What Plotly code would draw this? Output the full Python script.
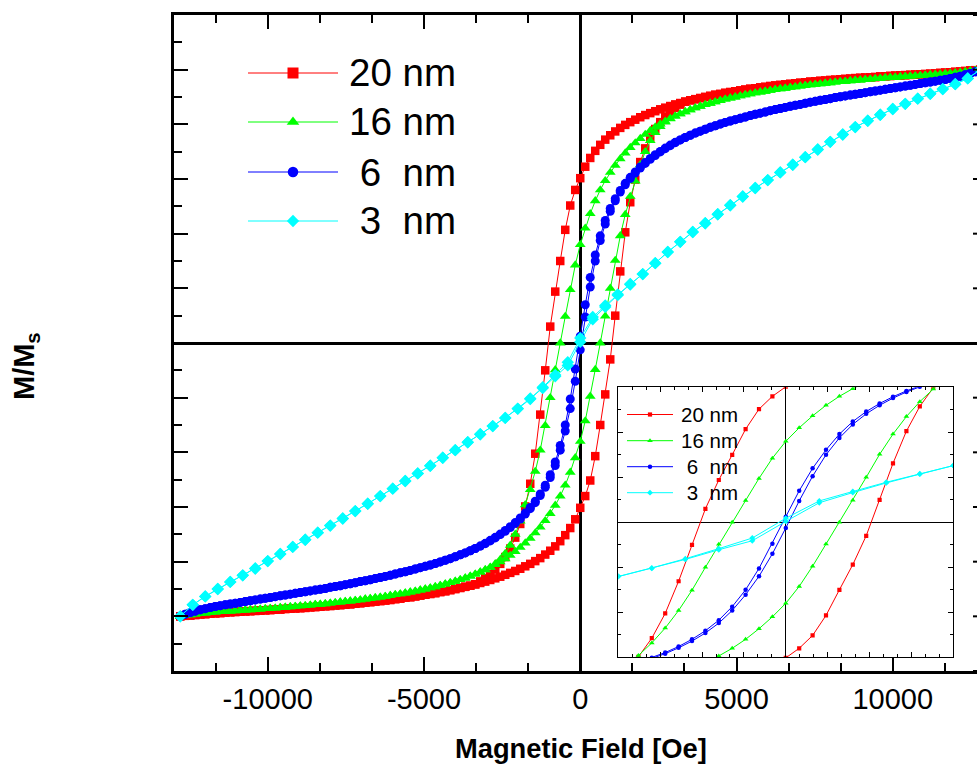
import plotly.graph_objects as go

# ---------------------------------------------------------------------------
# Hysteresis loops M/Ms vs applied field for four particle sizes.
# For 20, 16 and 6 nm the descending branch (field swept from +H to -H) is
# listed; the ascending branch follows from the point symmetry of the loop.
# The 3 nm sample lists both branches.
# ---------------------------------------------------------------------------

FIELD_OE = [
    -12800, -12640, -12480, -12320, -12160, -12000, -11840, -11680, -11520, -11360,
    -11200, -11040, -10880, -10720, -10560, -10400, -10240, -10080, -9920, -9760,
    -9600, -9440, -9280, -9120, -8960, -8800, -8640, -8480, -8320, -8160,
    -8000, -7840, -7680, -7520, -7360, -7200, -7040, -6880, -6720, -6560,
    -6400, -6240, -6080, -5920, -5760, -5600, -5440, -5280, -5120, -4960,
    -4800, -4640, -4480, -4320, -4160, -4000, -3840, -3680, -3520, -3360,
    -3200, -3040, -2880, -2720, -2560, -2400, -2240, -2080, -1920, -1760,
    -1600, -1440, -1280, -1120, -960, -800, -640, -480, -320, -160,
    0, 160, 320, 480, 640, 800, 960, 1120, 1280, 1440,
    1600, 1760, 1920, 2080, 2240, 2400, 2560, 2720, 2880, 3040,
    3200, 3360, 3520, 3680, 3840, 4000, 4160, 4320, 4480, 4640,
    4800, 4960, 5120, 5280, 5440, 5600, 5760, 5920, 6080, 6240,
    6400, 6560, 6720, 6880, 7040, 7200, 7360, 7520, 7680, 7840,
    8000, 8160, 8320, 8480, 8640, 8800, 8960, 9120, 9280, 9440,
    9600, 9760, 9920, 10080, 10240, 10400, 10560, 10720, 10880, 11040,
    11200, 11360, 11520, 11680, 11840, 12000, 12160, 12320, 12480, 12640,
    12800,
]

M_DESC_20NM = [
    -1.000, -0.998, -0.997, -0.995, -0.993, -0.992, -0.990, -0.989, -0.988, -0.986,
    -0.985, -0.984, -0.983, -0.982, -0.981, -0.980, -0.979, -0.978, -0.977, -0.976,
    -0.975, -0.973, -0.972, -0.971, -0.970, -0.969, -0.967, -0.966, -0.965, -0.963,
    -0.962, -0.960, -0.959, -0.957, -0.956, -0.954, -0.952, -0.950, -0.948, -0.946,
    -0.944, -0.942, -0.940, -0.937, -0.935, -0.932, -0.930, -0.927, -0.924, -0.921,
    -0.918, -0.915, -0.911, -0.908, -0.904, -0.900, -0.896, -0.892, -0.888, -0.883,
    -0.872, -0.860, -0.846, -0.829, -0.808, -0.783, -0.752, -0.712, -0.662, -0.598,
    -0.515, -0.405, -0.262, -0.100, 0.060, 0.188, 0.300, 0.414, 0.503, 0.560,
    0.603, 0.645, 0.677, 0.703, 0.725, 0.744, 0.760, 0.774, 0.787, 0.798,
    0.808, 0.817, 0.826, 0.834, 0.841, 0.848, 0.855, 0.861, 0.867, 0.873,
    0.878, 0.883, 0.888, 0.892, 0.896, 0.900, 0.904, 0.908, 0.911, 0.915,
    0.918, 0.921, 0.924, 0.927, 0.930, 0.932, 0.935, 0.937, 0.940, 0.942,
    0.944, 0.946, 0.948, 0.950, 0.952, 0.954, 0.956, 0.957, 0.959, 0.960,
    0.962, 0.963, 0.965, 0.966, 0.967, 0.969, 0.970, 0.971, 0.972, 0.973,
    0.975, 0.976, 0.977, 0.978, 0.979, 0.980, 0.981, 0.982, 0.983, 0.984,
    0.985, 0.986, 0.988, 0.989, 0.990, 0.992, 0.993, 0.995, 0.997, 0.998,
    1.000,
]

M_DESC_16NM = [
    -1.000, -0.997, -0.995, -0.992, -0.990, -0.988, -0.986, -0.985, -0.983, -0.982,
    -0.981, -0.980, -0.978, -0.977, -0.976, -0.975, -0.974, -0.972, -0.971, -0.970,
    -0.968, -0.967, -0.965, -0.964, -0.962, -0.961, -0.959, -0.957, -0.956, -0.954,
    -0.952, -0.950, -0.948, -0.946, -0.944, -0.942, -0.940, -0.937, -0.935, -0.932,
    -0.930, -0.927, -0.924, -0.921, -0.918, -0.915, -0.911, -0.908, -0.904, -0.900,
    -0.896, -0.892, -0.887, -0.882, -0.877, -0.872, -0.866, -0.860, -0.853, -0.846,
    -0.838, -0.830, -0.820, -0.808, -0.792, -0.770, -0.740, -0.700, -0.652, -0.592,
    -0.536, -0.470, -0.392, -0.302, -0.200, -0.098, 0.000, 0.097, 0.195, 0.285,
    0.360, 0.420, 0.473, 0.520, 0.560, 0.594, 0.624, 0.650, 0.674, 0.695,
    0.715, 0.732, 0.748, 0.763, 0.777, 0.790, 0.801, 0.811, 0.821, 0.830,
    0.838, 0.846, 0.853, 0.860, 0.866, 0.872, 0.877, 0.882, 0.887, 0.892,
    0.896, 0.900, 0.904, 0.908, 0.911, 0.915, 0.918, 0.921, 0.924, 0.927,
    0.930, 0.932, 0.935, 0.937, 0.940, 0.942, 0.944, 0.946, 0.948, 0.950,
    0.952, 0.954, 0.956, 0.957, 0.959, 0.961, 0.962, 0.964, 0.965, 0.967,
    0.968, 0.970, 0.971, 0.972, 0.974, 0.975, 0.976, 0.977, 0.978, 0.980,
    0.981, 0.982, 0.983, 0.985, 0.986, 0.988, 0.990, 0.992, 0.995, 0.997,
    1.000,
]

M_DESC_6NM = [
    -1.000, -0.992, -0.986, -0.981, -0.976, -0.972, -0.968, -0.964, -0.961, -0.958,
    -0.955, -0.952, -0.949, -0.946, -0.943, -0.940, -0.937, -0.934, -0.931, -0.928,
    -0.925, -0.922, -0.919, -0.916, -0.913, -0.910, -0.907, -0.904, -0.901, -0.898,
    -0.894, -0.891, -0.888, -0.884, -0.881, -0.877, -0.873, -0.870, -0.866, -0.862,
    -0.858, -0.854, -0.850, -0.845, -0.841, -0.837, -0.832, -0.827, -0.822, -0.817,
    -0.812, -0.807, -0.801, -0.795, -0.789, -0.782, -0.775, -0.768, -0.760, -0.752,
    -0.743, -0.733, -0.722, -0.711, -0.699, -0.686, -0.672, -0.657, -0.640, -0.622,
    -0.602, -0.579, -0.552, -0.520, -0.482, -0.435, -0.375, -0.300, -0.205, -0.095,
    0.025, 0.140, 0.240, 0.322, 0.392, 0.448, 0.492, 0.528, 0.558, 0.584,
    0.606, 0.626, 0.644, 0.660, 0.675, 0.689, 0.701, 0.713, 0.724, 0.734,
    0.743, 0.752, 0.760, 0.768, 0.775, 0.782, 0.789, 0.795, 0.801, 0.807,
    0.812, 0.817, 0.822, 0.827, 0.832, 0.837, 0.841, 0.845, 0.850, 0.854,
    0.858, 0.862, 0.866, 0.870, 0.873, 0.877, 0.881, 0.884, 0.888, 0.891,
    0.894, 0.898, 0.901, 0.904, 0.907, 0.910, 0.913, 0.916, 0.919, 0.922,
    0.925, 0.928, 0.931, 0.934, 0.937, 0.940, 0.943, 0.946, 0.949, 0.952,
    0.955, 0.958, 0.961, 0.964, 0.968, 0.972, 0.976, 0.981, 0.986, 0.992,
    1.000,
]

# the 3 nm sample was swept with a coarser field step
FIELD_3NM_OE = [
    -12800, -12400, -12000, -11600, -11200, -10800, -10400, -10000, -9600, -9200,
    -8800, -8400, -8000, -7600, -7200, -6800, -6400, -6000, -5600, -5200,
    -4800, -4400, -4000, -3600, -3200, -2800, -2400, -2000, -1600, -1200,
    -800, -400, 0, 400, 800, 1200, 1600, 2000, 2400, 2800,
    3200, 3600, 4000, 4400, 4800, 5200, 5600, 6000, 6400, 6800,
    7200, 7600, 8000, 8400, 8800, 9200, 9600, 10000, 10400, 10800,
    11200, 11600, 12000, 12400, 12800,
]

M_DESC_3NM = [
    -1.000, -0.958, -0.927, -0.900, -0.874, -0.850, -0.825, -0.798, -0.772, -0.746,
    -0.720, -0.694, -0.668, -0.642, -0.615, -0.588, -0.560, -0.533, -0.505, -0.477,
    -0.449, -0.420, -0.392, -0.363, -0.334, -0.304, -0.274, -0.240, -0.203, -0.162,
    -0.117, -0.070, 0.018, 0.095, 0.137, 0.178, 0.216, 0.252, 0.292, 0.333,
    0.370, 0.406, 0.438, 0.471, 0.504, 0.536, 0.567, 0.596, 0.624, 0.652,
    0.680, 0.708, 0.736, 0.763, 0.790, 0.813, 0.835, 0.856, 0.875, 0.894,
    0.912, 0.929, 0.947, 0.968, 1.000,
]

M_ASC_3NM = [
    -1.000, -0.958, -0.927, -0.900, -0.874, -0.850, -0.825, -0.798, -0.772, -0.746,
    -0.720, -0.694, -0.668, -0.642, -0.615, -0.588, -0.560, -0.533, -0.505, -0.477,
    -0.449, -0.420, -0.392, -0.363, -0.334, -0.304, -0.274, -0.241, -0.205, -0.165,
    -0.122, -0.082, 0.004, 0.087, 0.132, 0.175, 0.214, 0.252, 0.292, 0.333,
    0.370, 0.406, 0.438, 0.471, 0.504, 0.536, 0.567, 0.596, 0.624, 0.652,
    0.680, 0.708, 0.736, 0.763, 0.790, 0.813, 0.835, 0.856, 0.875, 0.894,
    0.912, 0.929, 0.947, 0.968, 1.000,
]

LEGEND_LABELS = ["20 nm", "16 nm", "\u00a06\u00a0\u00a0nm", "\u00a03\u00a0\u00a0nm"]
X_TICK_VALUES = [-10000, -5000, 0, 5000, 10000]
X_TICK_LABELS = ["-10000", "-5000", "0", "5000", "10000"]
Y_MAJOR_TICKS = [-1.2, -1.0, -0.8, -0.6, -0.4, -0.2, 0.0, 0.2, 0.4, 0.6, 0.8, 1.0, 1.2]
X_TITLE = "<b>Magnetic Field [Oe]</b>"
Y_TITLE = "<b>M/M<sub>s</sub></b>"

FONT = "Liberation Sans, Arial, Helvetica, sans-serif"

# figure geometry (pixels)
W, H = 977, 764
L, R, T, B = 174, 0, 15, 93
PX0, PX1 = L, W - R          # plot area, horizontal
PY0, PY1 = T, H - B          # plot area, vertical (top, bottom)
INSET_H_MAX = 2000           # field window of the inset, Oe


def symmetric_loop(field, m_desc):
    """Descending branch followed by the ascending one (point-symmetric)."""
    h = list(reversed(field)) + list(field)
    m = list(reversed(m_desc)) + [-v for v in reversed(m_desc)]
    return h, m


def measured_loop(field, m_desc, m_asc):
    h = list(reversed(field)) + list(field)
    m = list(reversed(m_desc)) + list(m_asc)
    return h, m


LOOPS = [
    (symmetric_loop(FIELD_OE, M_DESC_20NM), "#ff0000", "square", 8.5, 11, 4.2),
    (symmetric_loop(FIELD_OE, M_DESC_16NM), "#00ff00", "triangle-up", 9.5, 11, 5.0),
    (symmetric_loop(FIELD_OE, M_DESC_6NM), "#0000ff", "circle", 9, 10.5, 4.5),
    (measured_loop(FIELD_3NM_OE, M_DESC_3NM, M_ASC_3NM), "#00ffff", "diamond", 9.5, 9.5, 4.5),
]


def paper_x(px):
    return (px - PX0) / (PX1 - PX0)


def paper_y(py):
    return (PY1 - py) / (PY1 - PY0)


def glyph(symbol, cx, cy, size, color):
    """Legend marker as a layout shape centred on pixel (cx, cy)."""
    r = size / 2.0
    if symbol == "square":
        return dict(type="rect", xref="paper", yref="paper",
                    x0=paper_x(cx - r), x1=paper_x(cx + r),
                    y0=paper_y(cy + r), y1=paper_y(cy - r),
                    fillcolor=color, line=dict(width=0))
    if symbol == "circle":
        return dict(type="circle", xref="paper", yref="paper",
                    x0=paper_x(cx - r), x1=paper_x(cx + r),
                    y0=paper_y(cy + r), y1=paper_y(cy - r),
                    fillcolor=color, line=dict(width=0))
    if symbol == "triangle-up":
        rt = r * 2 / 3 ** 0.5
        pts = [(cx - rt, cy + r / 2), (cx + rt, cy + r / 2), (cx, cy - r)]
    else:  # diamond
        rd = r * 1.3
        pts = [(cx - rd, cy), (cx, cy - rd), (cx + rd, cy), (cx, cy + rd)]
    path = "M" + " L".join(f"{paper_x(x):.5f},{paper_y(y):.5f}" for x, y in pts) + " Z"
    return dict(type="path", xref="paper", yref="paper", path=path,
                fillcolor=color, line=dict(width=0))


fig = go.Figure()

# main loops
for (h, m), color, symbol, size, _, _ in LOOPS:
    fig.add_trace(go.Scatter(
        x=h, y=m, mode="lines+markers", xaxis="x", yaxis="y",
        line=dict(color=color, width=1),
        marker=dict(symbol=symbol, size=size, color=color, line=dict(width=0)),
        showlegend=False, hoverinfo="skip",
    ))

# inset: central part of the same loops, enlarged
for (h, m), color, symbol, _, _, isize in LOOPS:
    pts = [(a, b) for a, b in zip(h, m) if abs(a) <= INSET_H_MAX]
    fig.add_trace(go.Scatter(
        x=[p[0] for p in pts], y=[p[1] for p in pts],
        mode="lines+markers", xaxis="x2", yaxis="y2",
        line=dict(color=color, width=1),
        marker=dict(symbol=symbol, size=isize, color=color, line=dict(width=0)),
        showlegend=False, hoverinfo="skip",
    ))

shapes = []
annotations = []

# right-hand tick stubs of the main frame (the frame runs past the page edge)
for v in Y_MAJOR_TICKS:
    shapes.append(dict(type="line", xref="paper", yref="y",
                       x0=paper_x(PX1 - 4), x1=1, y0=v, y1=v,
                       line=dict(color="black", width=2)))

# legends
MAIN_ROWS = [73, 122, 172, 221]
INSET_ROWS = [414.5, 440.7, 466.7, 492.7]
for (_, color, symbol, _, lsize, isize), label, ry, iy in zip(
        LOOPS, LEGEND_LABELS, MAIN_ROWS, INSET_ROWS):
    shapes.append(dict(type="line", xref="paper", yref="paper",
                       x0=paper_x(248), x1=paper_x(338), y0=paper_y(ry), y1=paper_y(ry),
                       line=dict(color=color, width=1)))
    shapes.append(glyph(symbol, 293, ry, lsize, color))
    shapes.append(dict(type="line", xref="paper", yref="paper",
                       x0=paper_x(627), x1=paper_x(673), y0=paper_y(iy), y1=paper_y(iy),
                       line=dict(color=color, width=1)))
    shapes.append(glyph(symbol, 650, iy, isize, color))
    annotations.append(dict(
        x=paper_x(347), y=paper_y(ry), xref="paper", yref="paper", text=label,
        showarrow=False, xanchor="left", yanchor="middle",
        font=dict(family=FONT, size=38.5, color="black"),
    ))
    annotations.append(dict(
        x=paper_x(679), y=paper_y(iy), xref="paper", yref="paper", text=label,
        showarrow=False, xanchor="left", yanchor="middle",
        font=dict(family=FONT, size=20.5, color="black"),
    ))

annotations.append(dict(
    x=paper_x(581), y=paper_y(748), xref="paper", yref="paper", text=X_TITLE,
    showarrow=False, xanchor="center", yanchor="middle",
    font=dict(family=FONT, size=27.3, color="black"),
))
annotations.append(dict(
    x=paper_x(26), y=paper_y(366), xref="paper", yref="paper", text=Y_TITLE,
    showarrow=False, xanchor="center", yanchor="middle", textangle=-90,
    font=dict(family=FONT, size=29, color="black"),
))

axis_common = dict(showgrid=False, color="black", tickcolor="black", linecolor="black")

fig.update_layout(
    width=W, height=H,
    margin=dict(l=L, r=R, t=T, b=B, pad=0),
    paper_bgcolor="white", plot_bgcolor="rgba(0,0,0,0)",
    font=dict(family=FONT, color="black"),
    annotations=annotations, shapes=shapes,
    xaxis=dict(
        **axis_common, domain=[0, 1], anchor="y",
        range=[-13000, 12696],
        tickmode="array", tickvals=X_TICK_VALUES, ticktext=X_TICK_LABELS,
        ticks="inside", ticklen=14, tickwidth=2,
        showline=True, linewidth=2.5, mirror="ticks",
        zeroline=True, zerolinecolor="black", zerolinewidth=2.5,
        tickfont=dict(family=FONT, size=29, color="black"),
        minor=dict(tickmode="linear", tick0=0, dtick=5000 / 3, ticks="inside",
                   ticklen=8, tickwidth=2, tickcolor="black", showgrid=False),
    ),
    yaxis=dict(
        **axis_common, domain=[0, 1], anchor="x",
        range=[-1.2, 1.2], tickmode="linear", tick0=0, dtick=0.2,
        ticks="inside", ticklen=14, tickwidth=2, showticklabels=False,
        showline=True, linewidth=2.5, mirror=False,
        zeroline=True, zerolinecolor="black", zerolinewidth=2.5,
        minor=dict(tickmode="linear", tick0=0, dtick=0.1, ticks="inside",
                   ticklen=8, tickwidth=2, tickcolor="black", showgrid=False),
    ),
    xaxis2=dict(
        **axis_common, domain=[paper_x(618.3), paper_x(953.3)], anchor="y2",
        range=[-2000, 2000], tickmode="linear", tick0=0, dtick=500,
        ticks="inside", ticklen=5, tickwidth=1, showticklabels=False,
        showline=True, linewidth=1.2, mirror="ticks",
        zeroline=True, zerolinecolor="black", zerolinewidth=1.2,
        minor=dict(tickmode="linear", tick0=0, dtick=500 / 3, ticks="inside",
                   ticklen=3, tickwidth=1, tickcolor="black", showgrid=False),
    ),
    yaxis2=dict(
        **axis_common, domain=[paper_y(657.3), paper_y(387.3)], anchor="x2",
        range=[-0.6, 0.6], tickmode="linear", tick0=0, dtick=0.2,
        ticks="inside", ticklen=5, tickwidth=1, showticklabels=False,
        showline=True, linewidth=1.2, mirror="ticks",
        zeroline=True, zerolinecolor="black", zerolinewidth=1.2,
        minor=dict(tickmode="linear", tick0=0, dtick=0.1, ticks="inside",
                   ticklen=3, tickwidth=1, tickcolor="black", showgrid=False),
    ),
)

fig.write_html("out.html")
